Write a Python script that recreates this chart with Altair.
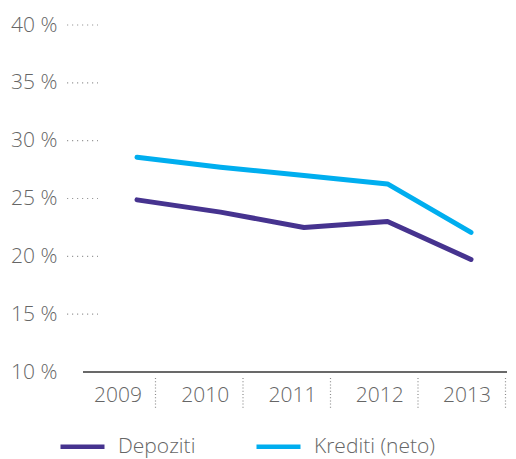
import altair as alt
import pandas as pd

years = ["2009", "2010", "2011", "2012", "2013"]
depoziti = [24.88, 23.82, 22.50, 23.02, 19.73]
krediti = [28.57, 27.70, 26.98, 26.26, 22.07]
series_names = ["Depoziti", "Krediti (neto)"]
series_colors = ["#46338f", "#00aeef"]
y_ticks = [10, 15, 20, 25, 30, 35, 40]

W, H = 440, 347
FONT = "Open Sans"
GRAY = "#666666"
WEIGHT = 300

lines_df = pd.DataFrame({
    "year": years * 2,
    "value": depoziti + krediti,
    "series": [series_names[0]] * len(years) + [series_names[1]] * len(years),
})
ticks_df = pd.DataFrame({"value": y_ticks[1:]})
years_df = pd.DataFrame({"year": years})

y_scale = alt.Scale(domain=[10, 40], nice=False, zero=False)

ytick_layer = alt.Chart(ticks_df).mark_rule(
    strokeDash=[1.2, 3.8], color="#9a9a9a", strokeWidth=1.2
).encode(
    y=alt.Y("value:Q", scale=y_scale, axis=alt.Axis(
        values=y_ticks, labelExpr="datum.value + ' %'", domain=False, ticks=False,
        grid=False, labelPadding=10, labelFont=FONT, labelFontSize=21,
        labelColor=GRAY, labelFontWeight=WEIGHT, title=None)),
    x=alt.value(0), x2=alt.value(31),
)

baseline_layer = alt.Chart(ticks_df).mark_rule(color="#6a6a6a", strokeWidth=1.5).encode(
    y=alt.datum(10, scale=y_scale), x=alt.value(16), x2=alt.value(W)
)

sep_layer = alt.Chart(years_df).mark_rule(
    strokeDash=[1, 2.2], color="#8a8a8a", strokeWidth=1.2
).encode(
    x=alt.X("year:N", bandPosition=1,
            scale=alt.Scale(type="band", paddingInner=0, paddingOuter=0,
                            range=[1, W - 1.5]), axis=None),
    y=alt.value(H + 6), y2=alt.value(H + 37),
)

label_layer = alt.Chart(years_df).mark_text(
    font=FONT, fontSize=21, color=GRAY, baseline="alphabetic", fontWeight=WEIGHT
).encode(
    x=alt.X("year:N", scale=alt.Scale(type="point", padding=0, range=[51, 400]), axis=None),
    y=alt.value(H + 30),
    text="year:N",
)

line_layer = alt.Chart(lines_df).mark_line(
    strokeWidth=5, strokeCap="round", strokeJoin="round"
).encode(
    x=alt.X("year:N", scale=alt.Scale(type="point", padding=0, range=[70, 404]), axis=None),
    y=alt.Y("value:Q", scale=y_scale),
    color=alt.Color("series:N", scale=alt.Scale(domain=series_names, range=series_colors),
                    legend=alt.Legend(
                        orient="none", legendX=-9, legendY=397, direction="horizontal",
                        title=None, symbolType="stroke", symbolSize=1936,
                        symbolStrokeWidth=4.5, labelFont=FONT, labelFontSize=21,
                        labelColor=GRAY, labelFontWeight=WEIGHT, labelOffset=11,
                        columnPadding=51, padding=0)),
)

chart = alt.layer(ytick_layer, baseline_layer, sep_layer, label_layer, line_layer).resolve_scale(
    x="independent"
).properties(
    width=W, height=H,
    autosize=alt.AutoSizeParams(type="none"),
    padding={"left": 59, "top": 17, "right": 1, "bottom": 87},
).configure_view(stroke=None)

chart.save("out.html", embed_options={"renderer": "svg", "actions": False})
